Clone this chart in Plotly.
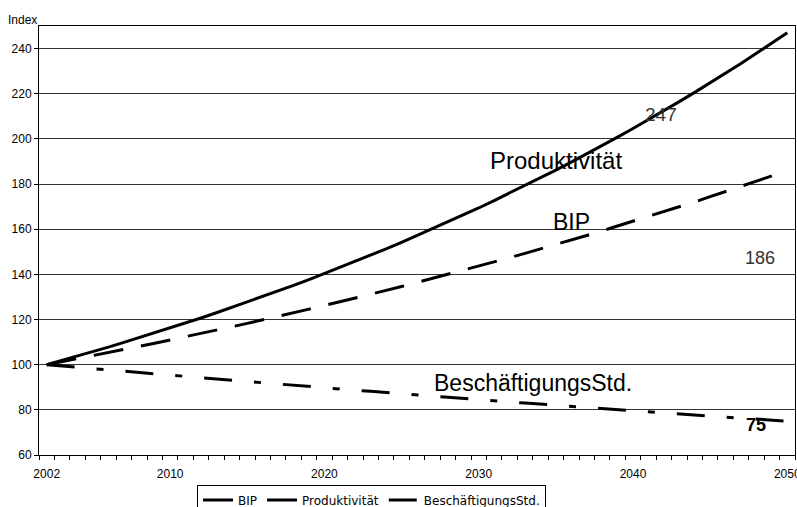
import plotly.graph_objects as go

years = list(range(2002, 2051))

bip = [100.0, 101.3, 102.6, 104.0, 105.3, 106.7, 108.1, 109.5, 110.9, 112.3,
       113.8, 115.3, 116.8, 118.3, 119.8, 121.4, 123.0, 124.6, 126.2, 127.8,
       129.5, 131.2, 132.9, 134.6, 136.4, 138.1, 139.9, 141.8, 143.6, 145.5,
       147.4, 149.3, 151.2, 153.2, 155.2, 157.2, 159.3, 161.4, 163.5, 165.6,
       167.7, 169.9, 172.1, 174.4, 176.6, 178.9, 181.3, 183.6, 186.0]

produktivitaet = [100.0, 101.9, 103.8, 105.8, 107.8, 109.9, 112.0, 114.1, 116.3, 118.5,
                  120.7, 123.0, 125.4, 127.7, 130.2, 132.6, 135.1, 137.7, 140.4, 143.0,
                  145.8, 148.5, 151.3, 154.2, 157.2, 160.1, 163.2, 166.3, 169.4, 172.7,
                  176.0, 179.3, 182.7, 186.2, 189.7, 193.3, 197.0, 200.8, 204.6, 208.5,
                  212.4, 216.5, 220.6, 224.8, 229.1, 233.4, 237.9, 242.4, 247.0]

beschaeftigung = [100.0, 99.4, 98.8, 98.2, 97.6, 97.0, 96.5, 95.9, 95.3, 94.7,
                  94.2, 93.6, 93.1, 92.5, 92.0, 91.4, 90.9, 90.3, 89.8, 89.2,
                  88.7, 88.2, 87.6, 87.1, 86.6, 86.1, 85.6, 85.0, 84.5, 84.0,
                  83.5, 83.0, 82.5, 82.0, 81.6, 81.1, 80.6, 80.1, 79.6, 79.1,
                  78.7, 78.2, 77.7, 77.3, 76.8, 76.3, 75.9, 75.4, 75.0]

x_tickvals = [2002, 2010, 2020, 2030, 2040, 2050]
y_tickvals = [60, 80, 100, 120, 140, 160, 180, 200, 220, 240]

FONT = "Liberation Sans, Arial, sans-serif"
LEGEND_FONT = "DejaVu Sans, Liberation Sans, sans-serif"

fig = go.Figure()
fig.add_trace(go.Scatter(x=years, y=bip, name="BIP", mode="lines",
                         line=dict(color="black", width=3, dash="30px,18px")))
fig.add_trace(go.Scatter(x=years, y=produktivitaet, name="Produktivität", mode="lines",
                         line=dict(color="black", width=3)))
fig.add_trace(go.Scatter(x=years, y=beschaeftigung, name="BeschäftigungsStd.", mode="lines",
                         line=dict(color="black", width=3, dash="28px,22px,7px,22px")))

annotations = [
    dict(x=2035.0, y=190.6, text="Produktivität", font=dict(size=24, color="black")),
    dict(x=2036.0, y=163.2, text="BIP", font=dict(size=23, color="black")),
    dict(x=2033.5, y=91.9, text="BeschäftigungsStd.", font=dict(size=23, color="black")),
    dict(x=2041.8, y=211.0, text="247", font=dict(size=19, color="#333333")),
    dict(x=2048.2, y=147.2, text="186", font=dict(size=18, color="#333333")),
    dict(x=2048.0, y=73.3, text="<b>75</b>", font=dict(size=18, color="black")),
]
for a in annotations:
    a.update(xref="x", yref="y", showarrow=False, xanchor="center", yanchor="middle")
    a["font"]["family"] = FONT

annotations.append(dict(xref="paper", yref="paper", x=-0.043, y=1.014, text="Index",
                        showarrow=False, xanchor="left", yanchor="middle",
                        font=dict(family=FONT, size=12, color="black")))

fig.update_layout(
    width=797, height=507,
    margin=dict(l=39, r=2, t=26, b=52, autoexpand=False),
    paper_bgcolor="white", plot_bgcolor="white",
    font=dict(family=FONT, size=12, color="black"),
    showlegend=True,
    legend=dict(orientation="h", x=0.209, xanchor="left", y=-0.069, yanchor="top",
                bordercolor="black", borderwidth=1, bgcolor="white",
                font=dict(family=LEGEND_FONT, size=12, color="black"),
                itemwidth=30, tracegroupgap=0),
    annotations=annotations,
)

fig.update_xaxes(range=[2001.5, 2050.5], tickmode="array", tickvals=x_tickvals,
                 ticks="", showgrid=False, showline=True, linecolor="black", linewidth=1,
                 mirror=True, zeroline=False, ticklabelstandoff=8, automargin=False,
                 ticklabeloverflow="allow",
                 tickfont=dict(family=FONT, size=12, color="black"),
                 minor=dict(tickmode="linear", tick0=2001.5, dtick=1, ticks="outside",
                            ticklen=4, tickcolor="black", showgrid=False))
fig.update_yaxes(range=[60, 250], tickmode="array", tickvals=y_tickvals,
                 ticks="outside", ticklen=4, tickcolor="black",
                 showgrid=True, gridcolor="#333333", gridwidth=1, automargin=False,
                 showline=True, linecolor="black", linewidth=1, mirror=True, zeroline=False,
                 tickfont=dict(family=FONT, size=12, color="black"))

fig.write_html("out.html", config={"displayModeBar": False},
               post_script="document.body.style.margin='0';document.body.style.overflow='hidden';")
